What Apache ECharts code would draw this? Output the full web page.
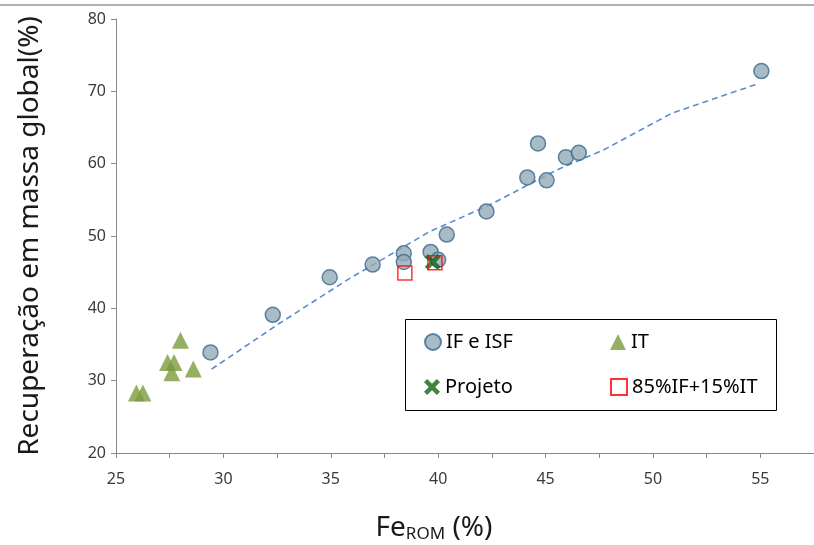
<!DOCTYPE html>
<html>
<head>
<meta charset="utf-8">
<script src="https://cdn.jsdelivr.net/npm/echarts@6/dist/echarts.min.js"></script>
<style>html,body{margin:0;padding:0;background:#fff}#c{width:814px;height:545px}</style>
</head>
<body>
<div id="c"></div>
<script>
// Data
const ifX = [29.4, 32.3, 34.95, 36.95, 38.4, 38.4, 39.65, 40.0, 40.4, 42.25, 44.15, 44.65, 45.05, 45.95, 46.55, 55.05];
const ifY = [33.9, 39.1, 44.3, 46.05, 47.6, 46.4, 47.8, 46.7, 50.2, 53.4, 58.1, 62.8, 57.7, 60.9, 61.5, 72.8];
const itX = [25.95, 26.25, 27.4, 27.7, 27.6, 28.0, 28.6];
const itY = [28.3, 28.3, 32.5, 32.5, 31.1, 35.6, 31.6];
const projX = [39.75];
const projY = [46.4];
const mixX = [38.45, 39.85];
const mixY = [44.9, 46.3];
const trendX = [29.45, 32.6, 35.75, 39.6, 42.4, 45.5, 47.7, 50.9, 54.85];
const trendY = [31.6, 37.9, 43.9, 50.6, 54.3, 59.1, 61.9, 67.0, 71.0];
const names = ['IF e ISF', 'IT', 'Projeto', '85%IF+15%IT'];
const xTicks = {min: 25, max: 57.5, step: 2.5};
const yTicks = {min: 20, max: 80, step: 10};
const xTitle = ['Fe', 'ROM', ' (%)'];
const yTitle = 'Recuperação em massa global(%)';

const zip = (a, b) => a.map((v, i) => [v, b[i]]);
const FONT = 'Noto Sans';
const crossPath = 'path://M2,0 L5,3 L8,0 L10,2 L7,5 L10,8 L8,10 L5,7 L2,10 L0,8 L3,5 L0,2 Z';
const axisColor = '#888888';

const chart = echarts.init(document.getElementById('c'), null, {renderer: 'canvas'});
const legendBase = (name, left, top, icon) => ({
  show: true, left: left, top: top, padding: 0, itemWidth: 16, itemHeight: 16, itemGap: 0,
  selectedMode: false,
  data: [{name: name, icon: icon}],
  textStyle: {fontFamily: FONT, fontSize: 20, color: '#000'}
});

chart.setOption({
  animation: false,
  grid: {left: 116, top: 19, right: 0, bottom: 92, containLabel: false, outerBoundsMode: 'none'},
  graphic: [
    {type: 'line', shape: {x1: 0, y1: 5, x2: 814, y2: 5}, style: {stroke: '#b0b0b0', lineWidth: 2}},
    {type: 'rect', shape: {x: 405.5, y: 319.5, width: 371, height: 91}, style: {fill: 'none', stroke: '#000', lineWidth: 1}, z: 10},
    {type: 'text', x: 434, y: 528, style: {
      text: '{a|' + xTitle[0] + '}{b|' + xTitle[1] + '}{a|' + xTitle[2] + '}',
      align: 'center', verticalAlign: 'middle',
      rich: {
        a: {fontFamily: FONT, fontSize: 28, fill: '#1a1a1a'},
        b: {fontFamily: FONT, fontSize: 17, fill: '#1a1a1a', padding: [12, 0, 0, 0]}
      }
    }},
    {type: 'text', x: 30, y: 236, rotation: Math.PI / 2, style: {
      text: yTitle, align: 'center', verticalAlign: 'middle',
      fontFamily: FONT, fontSize: 28, fill: '#1a1a1a'
    }}
  ],
  legend: [
    legendBase(names[0], 424, 332, 'circle'),
    legendBase(names[1], 610, 332, 'triangle'),
    legendBase(names[2], 424, 377, crossPath),
    legendBase(names[3], 610, 377, 'rect')
  ],
  xAxis: {
    type: 'value', min: xTicks.min, max: xTicks.max, interval: xTicks.step,
    axisLine: {show: true, lineStyle: {color: axisColor, width: 1}},
    axisTick: {show: true, length: 5, lineStyle: {color: axisColor}},
    splitLine: {show: false},
    axisLabel: {fontFamily: FONT, fontSize: 16, color: '#3a3a3a', margin: 18, showMaxLabel: false,
      formatter: v => (Math.abs(v % 5) < 1e-9 ? String(v) : '')}
  },
  yAxis: {
    type: 'value', min: yTicks.min, max: yTicks.max, interval: yTicks.step,
    axisLine: {show: true, lineStyle: {color: axisColor, width: 1}},
    axisTick: {show: true, length: 5, lineStyle: {color: axisColor}},
    splitLine: {show: false},
    axisLabel: {fontFamily: FONT, fontSize: 16, color: '#3a3a3a', margin: 10}
  },
  series: [
    {type: 'line', name: 'trend', data: zip(trendX, trendY), smooth: false, showSymbol: false, symbol: 'none',
      lineStyle: {color: '#5b8bd0', width: 1.6, type: [6, 4]}, z: 1, silent: true},
    {type: 'scatter', name: names[0], data: zip(ifX, ifY), symbol: 'circle', symbolSize: 15,
      itemStyle: {color: '#91abb6', borderColor: '#3d6891', borderWidth: 1.5}, z: 2},
    {type: 'scatter', name: names[1], data: zip(itX, itY), symbol: 'triangle', symbolSize: 17,
      itemStyle: {color: '#7c9c3c'}, z: 3},
    {type: 'scatter', name: names[2], data: zip(projX, projY), symbol: crossPath, symbolSize: 16,
      itemStyle: {color: '#126412'}, z: 4},
    {type: 'scatter', name: names[3], data: zip(mixX, mixY), symbol: 'rect', symbolSize: 14,
      itemStyle: {color: 'rgba(0,0,0,0)', borderColor: '#ff0000', borderWidth: 1.5}, z: 5}
  ]
});
</script>
</body>
</html>
